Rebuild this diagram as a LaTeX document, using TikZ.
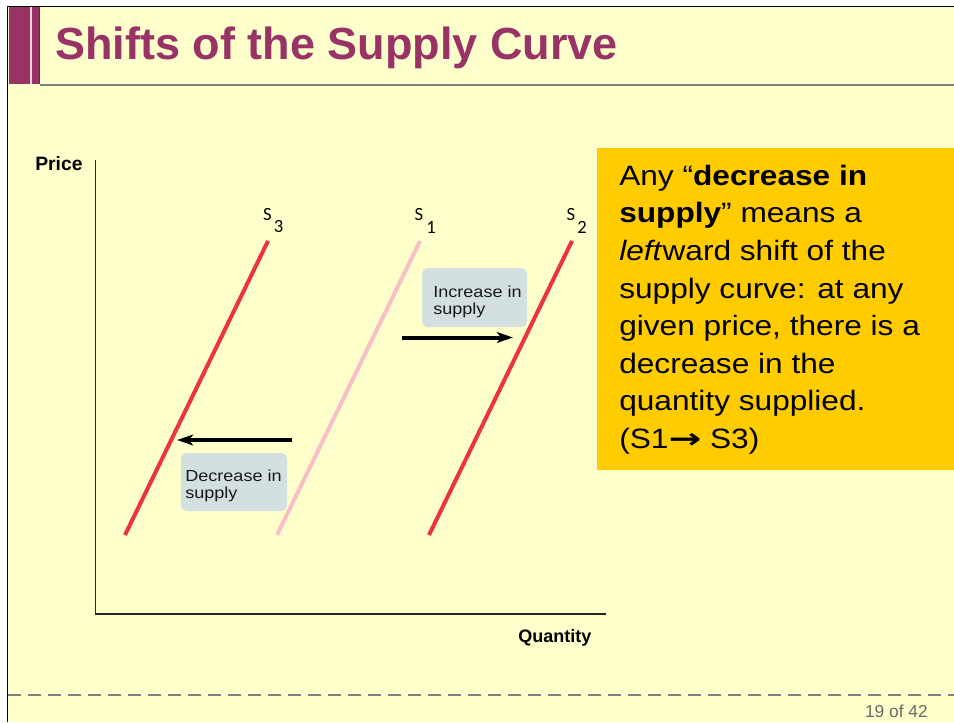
\documentclass[tikz,border=0pt]{standalone}
\usepackage{fontspec}
\usepackage{graphicx}
\setmainfont{Liberation Sans}
\newfontfamily\widesans[FakeStretch=1.13]{Liberation Sans}
\newfontfamily\boxsans[FakeStretch=1.13]{Liberation Sans}
\newfontfamily\carl{Carlito}
\newfontfamily\djv{DejaVu Sans}
\usetikzlibrary{arrows.meta}
\definecolor{bgyellow}{HTML}{FFFFCC}
\definecolor{titlepurple}{HTML}{993366}
\definecolor{darkpurple}{HTML}{7A1F48}
\definecolor{curvered}{HTML}{EE3340}
\definecolor{curvepink}{HTML}{F8C0C6}
\definecolor{boxgray}{HTML}{D4E0E0}
\definecolor{noteyellow}{HTML}{FFCC00}
\definecolor{linegray}{HTML}{808080}
\definecolor{pagegray}{HTML}{6A6A6A}
\tikzset{
  curve/.style={line width=3pt, curvered},
  curvelight/.style={line width=3pt, curvepink},
  shiftarrow/.style={line width=3pt, black, -{Stealth[length=12pt,width=8pt,inset=3pt]}},
  labelbox/.style={draw=none, fill=boxgray, rounded corners=4pt, inner sep=0pt},
  boxtext/.style={font=\boxsans\fontsize{12}{14}\selectfont, anchor=base west, inner sep=0pt, text=black!90},
  sname/.style={font=\carl\fontsize{14}{16}\selectfont, inner sep=0pt},
  notetext/.style={font=\widesans\fontsize{21}{26}\selectfont, anchor=base west, inner sep=0pt},
  axislabel/.style={font=\bfseries\fontsize{13.5}{15}\selectfont, anchor=base west, inner sep=0pt},
}
\begin{document}
\begin{tikzpicture}[x=0.75pt, y=-0.75pt]
\useasboundingbox (0,0) rectangle (954,722);
% page background
\fill[white] (0,0) rectangle (954,722);
\fill[bgyellow] (7,6) rectangle (954,722);
% header
\fill[titlepurple] (9,7) rectangle (40,84);
\draw[darkpurple, line width=1pt] (39.5,7) -- (39.5,84);
\draw[white!80!titlepurple, line width=0.8pt] (31,7) -- (31,84);
\draw[linegray, line width=1.5pt] (40,84.5) -- (954,84.5);
\draw[black, line width=1.2pt] (7,6.5) -- (954,6.5);
\draw[black, line width=1.2pt] (7.5,6) -- (7.5,722);
\node[anchor=base west, inner sep=0pt, text=titlepurple, font=\bfseries\fontsize{33.75}{38}\selectfont] (title) at (55,59) {Shifts of the Supply Curve};
% footer
\draw[linegray, line width=1.5pt, dash pattern=on 10pt off 5pt] (8,694.5) -- (954,694.5);
\node[anchor=base east, inner sep=0pt, text=pagegray, font=\fontsize{13}{15}\selectfont] (page) at (928,717) {19 of 42};
% axes
\coordinate (ytop) at (95.5,160);
\coordinate (origin) at (95.5,614);
\coordinate (xend) at (606,614);
\draw[black!85, line width=1.1pt] (ytop) -- (origin) -- (xend);
\node[axislabel, font=\bfseries\fontsize{14.5}{16}\selectfont] (price) at (35,170) {Price};
\node[axislabel] (quantity) at (518,642) {Quantity};
% supply curves
\coordinate (s3a) at (125,535); \coordinate (s3b) at (268,241);
\coordinate (s1a) at (277,535); \coordinate (s1b) at (420,241);
\coordinate (s2a) at (429,535); \coordinate (s2b) at (572,241);
\draw[curvelight] (s1a) -- (s1b);
\draw[curve] (s3a) -- (s3b);
\draw[curve] (s2a) -- (s2b);
\node[sname] (s3S) at (267.5,215) {S};
\node[sname] (s3n) at (278.5,227) {3};
\node[sname] (s1S) at (419,215) {S};
\node[sname] (s1n) at (431,227) {1};
\node[sname] (s2S) at (571,215) {S};
\node[sname] (s2n) at (582,227) {2};
% increase box and arrow
\node[labelbox, minimum width=78.75pt, minimum height=44.25pt] (incbox) at (474.5,297.5) {};
\node[boxtext] (inc1) at (433,297) {Increase in};
\node[boxtext] (inc2) at (433,314) {supply};
\coordinate (incfrom) at (402,337.5);
\coordinate (incto) at (513,337.5);
\draw[shiftarrow] (incfrom) -- (incto);
% decrease box and arrow
\node[labelbox, minimum width=79.5pt, minimum height=43.5pt] (decbox) at (234,482) {};
\node[boxtext] (dec1) at (185,481) {Decrease in};
\node[boxtext] (dec2) at (185,498) {supply};
\coordinate (decfrom) at (292,440);
\coordinate (decto) at (177,440);
\draw[shiftarrow] (decfrom) -- (decto);
% note box
\fill[noteyellow] (597,148) rectangle (954,470);
\node[notetext] (n1) at (619,185) {Any “\textbf{decrease in}};
\node[notetext] (n2) at (619,222.5) {\textbf{supply}” means a};
\node[notetext] (n3) at (619,260) {\textit{left}ward shift of the};
\node[notetext] (n4) at (619,298) {supply curve: at any};
\node[notetext] (n5) at (619,335.5) {given price, there is a};
\node[notetext] (n6) at (619,373) {decrease in the};
\node[notetext] (n7) at (619,410.5) {quantity supplied.};
\node[notetext] (n8) at (619,448) {(S1{\djv\bfseries\scalebox{1.4}[1]{→}} S3)};
\end{tikzpicture}
\end{document}
